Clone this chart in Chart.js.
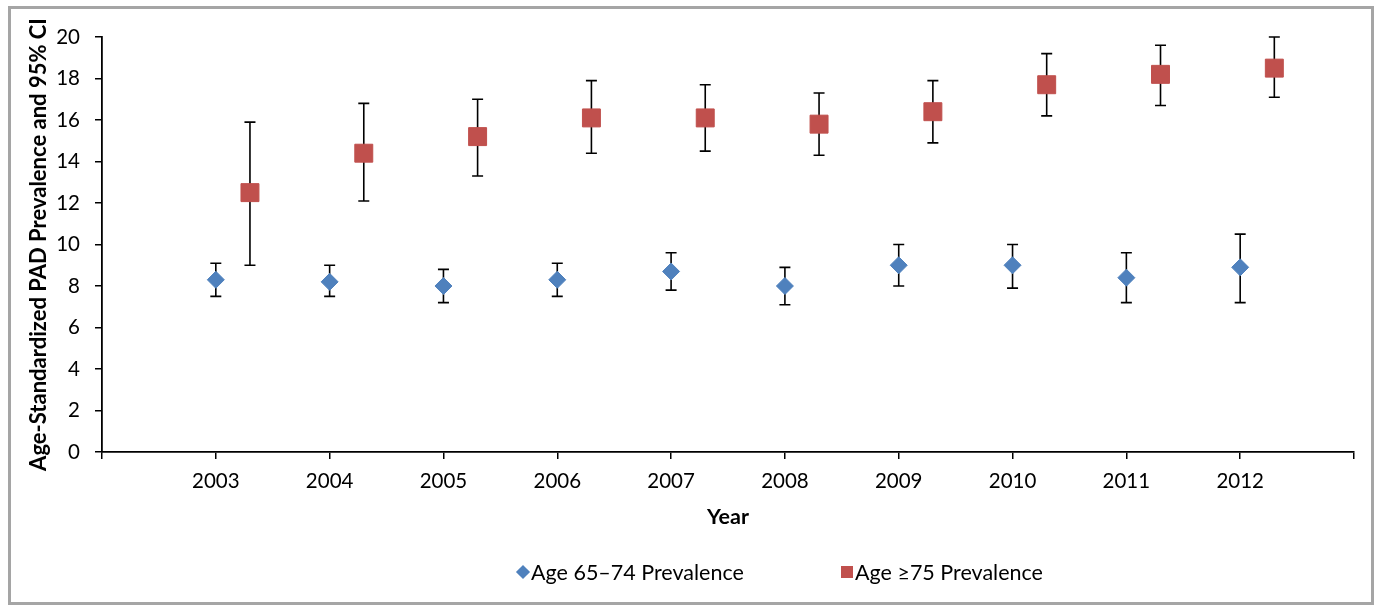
<!DOCTYPE html>
<html lang="en">
<head>
    <meta charset="UTF-8">
    <title>Age-Standardized PAD Prevalence</title>
    <script src="https://cdn.jsdelivr.net/npm/chart.js"></script>
    <style>
        body {
            margin: 0;
            background: #fff;
            font-family: Lato, "Open Sans", sans-serif;
        }
        .wrap {
            position: relative;
            width: 1377px;
            height: 606px;
        }
        .frame {
            position: absolute;
            left: 8px;
            top: 6px;
            width: 1360px;
            height: 593px;
            border: 3px solid #a5a5a5;
            pointer-events: none;
        }
        .legend {
            position: absolute;
            top: 559px;
            left: 0;
            width: 1377px;
            height: 26px;
            font-size: 21.5px;
            color: #000;
        }
        .legend span {
            position: absolute;
            top: 0;
            line-height: 26px;
            white-space: nowrap;
        }
        .mark {
            position: absolute;
        }
    </style>
</head>
<body>

    <div class="wrap">
        <canvas id="padChart" width="1377" height="606"></canvas>
        <div class="frame"></div>
        <div class="legend">
            <div class="mark" style="left:518px;top:8px;width:10px;height:10px;background:#4f81bd;transform:rotate(45deg);"></div>
            <span style="left:531px;">Age 65–74 Prevalence</span>
            <div class="mark" style="left:841px;top:7px;width:12px;height:12px;background:#c0504d;"></div>
            <span style="left:855px;">Age ≥75 Prevalence</span>
        </div>
    </div>

    <script>
        // ข้อมูลจากกราฟ
        const years = [2003, 2004, 2005, 2006, 2007, 2008, 2009, 2010, 2011, 2012];

        const prev6574 = [8.3, 8.2, 8.0, 8.3, 8.7, 8.0, 9.0, 9.0, 8.4, 8.9];
        const low6574  = [7.5, 7.5, 7.2, 7.5, 7.8, 7.1, 8.0, 7.9, 7.2, 7.2];
        const high6574 = [9.1, 9.0, 8.8, 9.1, 9.6, 8.9, 10.0, 10.0, 9.6, 10.5];

        const prev75 = [12.5, 14.4, 15.2, 16.1, 16.1, 15.8, 16.4, 17.7, 18.2, 18.5];
        const low75  = [9.0, 12.1, 13.3, 14.4, 14.5, 14.3, 14.9, 16.2, 16.7, 17.1];
        const high75 = [15.9, 16.8, 17.0, 17.9, 17.7, 17.3, 17.9, 19.2, 19.6, 20.0];

        const yTicks = [0, 2, 4, 6, 8, 10, 12, 14, 16, 18, 20];

        const SHIFT = 0.3; // จุดของกลุ่มอายุ 75+ เลื่อนไปทางขวา

        const blueData = years.map((y, i) => ({ x: y, y: prev6574[i], lo: low6574[i], hi: high6574[i] }));
        const redData = years.map((y, i) => ({ x: y + SHIFT, y: prev75[i], lo: low75[i], hi: high75[i] }));

        // วาด error bar จากค่าบนแกน
        const errorBars = {
            id: 'errorBars',
            beforeDatasetsDraw(chart) {
                const ctx = chart.ctx;
                const xs = chart.scales.x;
                const ys = chart.scales.y;
                ctx.save();
                ctx.strokeStyle = '#000';
                ctx.lineWidth = 1.6;
                chart.data.datasets.forEach(ds => {
                    ds.data.forEach(p => {
                        const px = xs.getPixelForValue(p.x);
                        const top = ys.getPixelForValue(p.hi);
                        const bot = ys.getPixelForValue(p.lo);
                        ctx.beginPath();
                        ctx.moveTo(px, top);
                        ctx.lineTo(px, bot);
                        ctx.moveTo(px - 5.5, top);
                        ctx.lineTo(px + 5.5, top);
                        ctx.moveTo(px - 5.5, bot);
                        ctx.lineTo(px + 5.5, bot);
                        ctx.stroke();
                    });
                });
                ctx.restore();
            }
        };

        new Chart(document.getElementById('padChart'), {
            type: 'scatter',
            data: {
                datasets: [
                    {
                        label: 'Age 65–74 Prevalence',
                        data: blueData,
                        pointStyle: 'rectRot',
                        pointRadius: 8.5,
                        pointHoverRadius: 8.5,
                        backgroundColor: '#4f81bd',
                        borderColor: '#4f81bd',
                        borderWidth: 1
                    },
                    {
                        label: 'Age ≥75 Prevalence',
                        data: redData,
                        pointStyle: 'rect',
                        pointRadius: 12.7,
                        pointHoverRadius: 12.7,
                        backgroundColor: '#c0504d',
                        borderColor: '#c0504d',
                        borderWidth: 1
                    }
                ]
            },
            options: {
                responsive: false,
                animation: false,
                layout: {
                    padding: { left: 0, right: 23, top: 37, bottom: 66 }
                },
                plugins: {
                    legend: { display: false },
                    tooltip: { enabled: false }
                },
                scales: {
                    x: {
                        type: 'linear',
                        min: years[0] - 1,
                        max: years[years.length - 1] + 1,
                        afterFit: s => { s.height = 88; },
                        afterBuildTicks: s => {
                            s.ticks = [years[0] - 1, ...years, years[years.length - 1] + 1].map(v => ({ value: v }));
                        },
                        ticks: {
                            autoSkip: false,
                            maxRotation: 0,
                            padding: 10,
                            color: '#000',
                            font: { family: 'Lato', size: 20.5 },
                            callback: v => years.includes(v) ? String(v) : ''
                        },
                        grid: {
                            drawOnChartArea: false,
                            drawTicks: true,
                            tickLength: 7,
                            color: '#000',
                            lineWidth: 1.5
                        },
                        border: { color: '#000', width: 1.8 },
                        title: {
                            display: true,
                            text: 'Year',
                            color: '#000',
                            font: { family: 'Lato', size: 21.5, weight: 'bold' },
                            padding: { top: 0, bottom: 10 }
                        }
                    },
                    y: {
                        min: 0,
                        max: 20,
                        afterFit: s => { s.width = 102; },
                        afterBuildTicks: s => {
                            s.ticks = yTicks.map(v => ({ value: v }));
                        },
                        ticks: {
                            padding: 15,
                            color: '#000',
                            font: { family: 'Lato', size: 20.5 }
                        },
                        grid: {
                            drawOnChartArea: false,
                            drawTicks: true,
                            tickLength: 7,
                            color: '#000',
                            lineWidth: 1.5
                        },
                        border: { color: '#000', width: 1.8 },
                        title: {
                            display: true,
                            text: 'Age-Standardized PAD Prevalence and 95% CI',
                            color: '#000',
                            font: { family: 'Lato', size: 22, weight: 'bold' },
                            padding: { top: 26, bottom: 0 }
                        }
                    }
                }
            },
            plugins: [errorBars]
        });
    </script>

</body>
</html>
